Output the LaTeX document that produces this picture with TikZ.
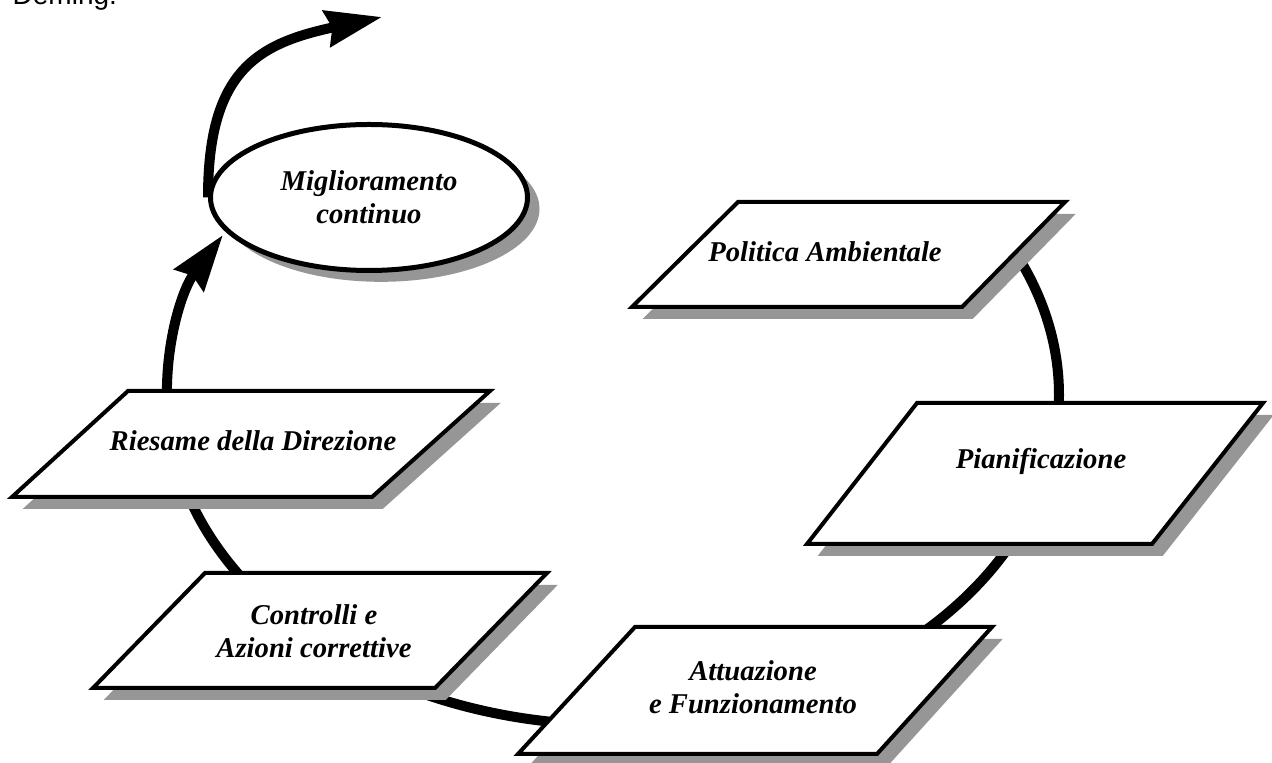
\documentclass[tikz,border=0pt]{standalone}
\usepackage{fontspec}
\setmainfont{Liberation Serif}
\newfontfamily\demingfont{Liberation Sans}
\usetikzlibrary{shapes.geometric,shadows,arrows.meta,calc,backgrounds}
\definecolor{shadowgrey}{RGB}{150,150,150}
\tikzset{
  fase/.style={draw, line width=3pt, fill=white, line join=miter,
    drop shadow={shadow xshift=8pt, shadow yshift=-9pt, fill=shadowgrey, opacity=1}},
  testo/.style={align=center, inner sep=0pt, font=\fontsize{21.5}{25}\selectfont\bfseries\itshape},
  meta/.style={ellipse, draw, line width=3.75pt, fill=white, testo,
    drop shadow={shadow xshift=9pt, shadow yshift=-8.5pt, fill=shadowgrey, opacity=1}},
  ciclo/.style={line width=7.5pt},
  punta/.style={-{Stealth[length=42pt,width=27pt,inset=4pt]}}
}
\begin{document}
\begin{tikzpicture}[x=0.75pt,y=0.75pt]
			\useasboundingbox (0,0) rectangle (1272,763);
			\node[anchor=base west, font=\demingfont\fontsize{21}{25}\selectfont] (deming) at (8,758) {Deming.};
			
			\node[meta, minimum width=237.75pt, minimum height=109.5pt] (mig) at (369,565.5) {Miglioramento\\continuo};
			
			% the five steps
			\path[fase] (738,561) -- (1065,561) -- (962,456) -- (632,456) -- cycle;
			\path[fase] (917,360) -- (1263,360) -- (1152,219) -- (807,219) -- cycle;
			\path[fase] (635,136) -- (992,136) -- (877,9) -- (518,9) -- cycle;
			\path[fase] (205,190) -- (547,190) -- (435,75) -- (93,75) -- cycle;
			\path[fase] (128,372) -- (490,372) -- (372,266) -- (12,266) -- cycle;
			
			\node[testo] (pol) at (825,511.5) {Politica Ambientale};
			\node[testo] (pia) at (1041,302)  {Pianificazione};
			\node[testo] (att) at (753,76)    {Attuazione\\e Funzionamento};
			\node[testo] (con) at (314,132)   {Controlli e\\Azioni correttive};
			\node[testo] (rie) at (253,322)   {Riesame della Direzione};
			
			\begin{pgfonlayer}{background}
			\coordinate (cyc) at (613,368);
			\coordinate (top) at (382,746);
			\draw[ciclo] ($(cyc)+(30:446 and 330)$) arc[start angle=30, end angle=-5, x radius=446, y radius=330];
			\draw[ciclo] ($(cyc)+(-20:446 and 330)$) arc[start angle=-20, end angle=-60, x radius=446, y radius=330];
			\draw[ciclo] ($(cyc)+(-90:446 and 330)$) arc[start angle=-90, end angle=-125, x radius=446, y radius=330];
			\draw[ciclo] ($(cyc)+(-145:446 and 330)$) arc[start angle=-145, end angle=-170, x radius=446, y radius=330];
			\draw[ciclo, punta] ($(cyc)+(-175:446 and 330)$) arc[start angle=-175, end angle=-209, x radius=446, y radius=330];
			\draw[ciclo, punta] (mig.west) to[out=90, in=192, looseness=1.3] (top);
			\end{pgfonlayer}
		\end{tikzpicture}
\end{document}
